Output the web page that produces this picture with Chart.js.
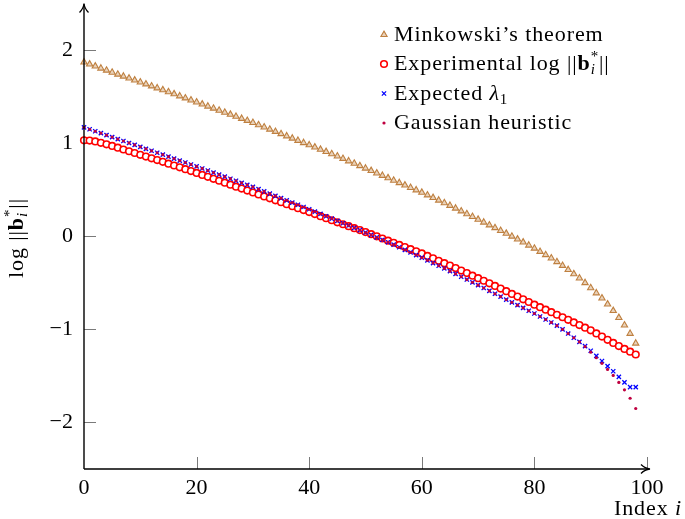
<!DOCTYPE html>
<html>
<head>
<meta charset="utf-8">
<script src="https://cdn.jsdelivr.net/npm/chart.js@4.4.1/dist/chart.umd.min.js"></script>
<style>
  html, body { margin: 0; padding: 0; background: #fff; }
  canvas { display: block; }
</style>
</head>
<body>
<canvas id="grafica" width="685" height="519"></canvas>
<script>
// valores, indice i = 0..98
const minkowski = [
  1.870, 1.848, 1.826, 1.804, 1.782, 1.760, 1.739, 1.718, 1.697, 1.676,
  1.655, 1.634, 1.613, 1.592, 1.571, 1.550, 1.528, 1.506, 1.484, 1.462,
  1.440, 1.418, 1.396, 1.374, 1.352, 1.330, 1.308, 1.286, 1.264, 1.242,
  1.220, 1.196, 1.172, 1.148, 1.124, 1.100, 1.076, 1.052, 1.028, 1.004,
  0.980, 0.956, 0.932, 0.908, 0.884, 0.860, 0.834, 0.808, 0.782, 0.756,
  0.730, 0.704, 0.678, 0.652, 0.626, 0.600, 0.574, 0.548, 0.522, 0.496,
  0.470, 0.442, 0.414, 0.386, 0.358, 0.330, 0.300, 0.270, 0.240, 0.210,
  0.180, 0.150, 0.120, 0.090, 0.060, 0.030, -0.001, -0.032, -0.064, -0.097,
  -0.130, -0.165, -0.200, -0.235, -0.275, -0.315, -0.360, -0.405, -0.450, -0.500,
  -0.555, -0.610, -0.665, -0.730, -0.800, -0.875, -0.955, -1.045, -1.150
];
const experimental = [
  1.030, 1.028, 1.018, 1.003, 0.987, 0.970, 0.951, 0.932, 0.913, 0.894,
  0.875, 0.856, 0.837, 0.818, 0.799, 0.780, 0.760, 0.740, 0.720, 0.700,
  0.680, 0.659, 0.638, 0.617, 0.596, 0.575, 0.554, 0.533, 0.512, 0.491,
  0.470, 0.449, 0.428, 0.407, 0.386, 0.365, 0.344, 0.323, 0.302, 0.281,
  0.260, 0.238, 0.216, 0.194, 0.172, 0.150, 0.129, 0.108, 0.087, 0.066,
  0.045, 0.022, -0.001, -0.024, -0.047, -0.070, -0.093, -0.116, -0.139, -0.162,
  -0.185, -0.211, -0.237, -0.263, -0.289, -0.315, -0.342, -0.369, -0.396, -0.423,
  -0.450, -0.478, -0.506, -0.534, -0.562, -0.590, -0.619, -0.648, -0.677, -0.706,
  -0.735, -0.762, -0.789, -0.816, -0.843, -0.870, -0.898, -0.926, -0.954, -0.982,
  -1.010, -1.044, -1.078, -1.112, -1.146, -1.180, -1.210, -1.240, -1.270
];
const expectedLambda1 = [
  1.170, 1.149, 1.128, 1.107, 1.086, 1.065, 1.044, 1.023, 1.002, 0.981,
  0.960, 0.939, 0.918, 0.897, 0.876, 0.855, 0.834, 0.813, 0.792, 0.771,
  0.750, 0.728, 0.706, 0.684, 0.662, 0.640, 0.618, 0.596, 0.574, 0.552,
  0.530, 0.506, 0.482, 0.458, 0.434, 0.410, 0.386, 0.362, 0.338, 0.314,
  0.290, 0.265, 0.240, 0.215, 0.190, 0.165, 0.140, 0.115, 0.090, 0.065,
  0.040, 0.014, -0.012, -0.038, -0.064, -0.090, -0.118, -0.146, -0.174, -0.202,
  -0.230, -0.259, -0.288, -0.317, -0.346, -0.375, -0.405, -0.435, -0.465, -0.495,
  -0.525, -0.556, -0.587, -0.618, -0.649, -0.680, -0.710, -0.740, -0.770, -0.800,
  -0.830, -0.862, -0.894, -0.926, -0.960, -1.000, -1.045, -1.090, -1.135, -1.180,
  -1.230, -1.285, -1.340, -1.395, -1.450, -1.510, -1.570, -1.620, -1.620
];
const gaussianHeuristic = [
  1.170, 1.149, 1.128, 1.107, 1.086, 1.065, 1.044, 1.023, 1.002, 0.981,
  0.960, 0.939, 0.918, 0.897, 0.876, 0.855, 0.834, 0.813, 0.792, 0.771,
  0.750, 0.728, 0.706, 0.684, 0.662, 0.640, 0.618, 0.596, 0.574, 0.552,
  0.530, 0.506, 0.482, 0.458, 0.434, 0.410, 0.386, 0.362, 0.338, 0.314,
  0.290, 0.265, 0.240, 0.215, 0.190, 0.165, 0.140, 0.115, 0.090, 0.065,
  0.040, 0.014, -0.012, -0.038, -0.064, -0.090, -0.118, -0.146, -0.174, -0.202,
  -0.230, -0.259, -0.288, -0.317, -0.346, -0.375, -0.405, -0.435, -0.465, -0.495,
  -0.525, -0.556, -0.587, -0.618, -0.649, -0.680, -0.710, -0.740, -0.770, -0.800,
  -0.830, -0.862, -0.894, -0.926, -0.960, -1.000, -1.045, -1.090, -1.135, -1.185,
  -1.245, -1.305, -1.365, -1.430, -1.495, -1.570, -1.650, -1.740, -1.850
];
const xTicks = [0, 20, 40, 60, 80, 100];
const yTicks = [-2, -1, 0, 1, 2];

const serif = '"Liberation Serif", "DejaVu Serif", serif';
const fReg = `22px ${serif}`;
const fIt = `italic 22px ${serif}`;
const fBold = `bold 22px ${serif}`;
const fSmall = `15px ${serif}`;
const fSmallIt = `italic 15px ${serif}`;

function puntos(valores) {
    return valores.map((v, i) => ({x: i, y: v}));
}

// texto con partes (sub/superindices); hold = no avanza x
function anchoRico(ctx, partes) {
    let w = 0, held = 0;
    for (const p of partes) {
        ctx.font = p.font;
        const pw = ctx.measureText(p.text).width;
        if (p.hold) { held = pw; continue; }
        w += Math.max(pw, held);
        held = 0;
    }
    return w;
}

function dibujarRico(ctx, partes, x, y) {
    let cx = x, held = 0;
    for (const p of partes) {
        ctx.font = p.font;
        ctx.fillText(p.text, cx, y + (p.dy || 0));
        const pw = ctx.measureText(p.text).width;
        if (p.hold) { held = pw; continue; }
        cx += Math.max(pw, held);
        held = 0;
    }
}

const normaB = [
    {text: '||', font: fReg},
    {text: 'b', font: fBold},
    {text: '*', font: fSmall, dy: -9, hold: true},
    {text: 'i', font: fSmallIt, dy: 4},
    {text: '||', font: fReg}
];

const leyenda = [
    {ds: 0, partes: [{text: 'Minkowski’s theorem', font: fReg}]},
    {ds: 1, partes: [{text: 'Experimental log ', font: fReg}].concat(normaB)},
    {ds: 2, partes: [{text: 'Expected ', font: fReg}, {text: 'λ', font: fIt}, {text: '1', font: fSmall, dy: 4}]},
    {ds: 3, partes: [{text: 'Gaussian heuristic', font: fReg}]}
];
const baseLeyenda = [40.7, 70, 99.5, 129];

const ejesPlugin = {
    id: 'ejes',
    beforeDatasetsDraw(chart) {
        const ctx = chart.ctx;
        const a = chart.chartArea;
        const sx = chart.scales.x, sy = chart.scales.y;
        ctx.save();
        ctx.strokeStyle = '#7a7a7a';
        ctx.lineWidth = 1;
        ctx.beginPath();
        for (const t of yTicks) {
            const py = Math.round(sy.getPixelForValue(t)) + 0.5;
            ctx.moveTo(a.left, py);
            ctx.lineTo(a.left + 12, py);
        }
        for (const t of xTicks) {
            if (t === 0) continue;
            const px = Math.round(sx.getPixelForValue(t)) + 0.5;
            ctx.moveTo(px, a.bottom);
            ctx.lineTo(px, a.bottom - 12);
        }
        ctx.stroke();
        ctx.restore();
    },
    afterDraw(chart) {
        const ctx = chart.ctx;
        const a = chart.chartArea;
        ctx.save();
        // ejes con flechas
        ctx.strokeStyle = '#000';
        ctx.lineWidth = 1.4;
        ctx.beginPath();
        ctx.moveTo(a.left, a.bottom);
        ctx.lineTo(a.left, a.top + 1);
        ctx.moveTo(a.left, a.bottom);
        ctx.lineTo(a.right + 2, a.bottom);
        ctx.stroke();
        ctx.lineWidth = 1.3;
        ctx.beginPath();
        ctx.moveTo(a.left - 4.5, a.top + 9);
        ctx.quadraticCurveTo(a.left - 0.5, a.top + 5, a.left, a.top);
        ctx.quadraticCurveTo(a.left + 0.5, a.top + 5, a.left + 4.5, a.top + 9);
        const tx = a.right + 3;
        ctx.moveTo(tx - 9, a.bottom - 4.5);
        ctx.quadraticCurveTo(tx - 5, a.bottom - 0.5, tx, a.bottom);
        ctx.quadraticCurveTo(tx - 5, a.bottom + 0.5, tx - 9, a.bottom + 4.5);
        ctx.stroke();

        // marcadores de la leyenda
        leyenda.forEach((e, k) => {
            const ds = chart.data.datasets[e.ds];
            ctx.fillStyle = ds.backgroundColor;
            ctx.strokeStyle = ds.borderColor;
            ctx.lineWidth = ds.borderWidth;
            Chart.helpers.drawPoint(ctx, {
                pointStyle: ds.pointStyle,
                radius: ds.pointRadius,
                borderWidth: ds.borderWidth,
                rotation: 0
            }, 384, baseLeyenda[k] - 6);
        });

        ctx.fillStyle = '#000';
        ctx.textBaseline = 'alphabetic';
        ctx.textAlign = 'left';
        ctx.letterSpacing = '0.9px';

        leyenda.forEach((e, k) => {
            dibujarRico(ctx, e.partes, 394, baseLeyenda[k]);
        });

        // titulo eje x
        const tituloX = [{text: 'Index ', font: fReg}, {text: 'i', font: fIt}];
        dibujarRico(ctx, tituloX, 682 - anchoRico(ctx, tituloX), 515);

        // titulo eje y
        const tituloY = [{text: 'log ', font: fReg}].concat(normaB);
        const w = anchoRico(ctx, tituloY);
        ctx.translate(23, 238);
        ctx.rotate(-Math.PI / 2);
        dibujarRico(ctx, tituloY, -w / 2, 0);
        ctx.restore();
    }
};

const datasets = [
    {
        label: 'Minkowski’s theorem',
        data: puntos(minkowski),
        pointStyle: 'triangle',
        pointRadius: 3.6,
        borderWidth: 1.1,
        borderColor: '#bf8040',
        backgroundColor: 'rgba(191,128,64,0.35)',
        order: 3
    },
    {
        label: 'Experimental log ||b*_i||',
        data: puntos(experimental),
        pointStyle: 'circle',
        pointRadius: 3.3,
        borderWidth: 1.6,
        borderColor: '#ff0000',
        backgroundColor: '#ffffff',
        order: 2
    },
    {
        label: 'Expected lambda_1',
        data: puntos(expectedLambda1),
        pointStyle: 'crossRot',
        pointRadius: 3,
        borderWidth: 1.3,
        borderColor: '#0000ff',
        backgroundColor: '#0000ff',
        order: 1
    },
    {
        label: 'Gaussian heuristic',
        data: puntos(gaussianHeuristic),
        pointStyle: 'circle',
        pointRadius: 1.6,
        borderWidth: 0,
        borderColor: '#bf0040',
        backgroundColor: '#bf0040',
        order: 0
    }
];

const sinPadding = s => {
    s.paddingTop = 0;
    s.paddingBottom = 0;
    s.paddingLeft = 0;
    s.paddingRight = 0;
};

const config = {
    type: 'scatter',
    data: {datasets: datasets},
    options: {
        responsive: false,
        animation: false,
        events: [],
        devicePixelRatio: 1,
        layout: {autoPadding: false, padding: {left: 0, top: 3.5, right: 38, bottom: 0}},
        plugins: {legend: {display: false}, tooltip: {enabled: false}},
        elements: {point: {hitRadius: 0, hoverRadius: 0}},
        datasets: {scatter: {clip: false}},
        scales: {
            x: {
                type: 'linear',
                min: 0,
                max: 100,
                grid: {display: false, drawTicks: false, tickLength: 0},
                border: {display: false},
                afterBuildTicks: s => { s.ticks = xTicks.map(v => ({value: v})); },
                afterFit: s => { s.height = 50; sinPadding(s); },
                ticks: {
                    padding: 6,
                    color: '#000',
                    font: {family: serif, size: 22},
                    maxRotation: 0
                }
            },
            y: {
                type: 'linear',
                min: -2.5,
                max: 2.5,
                grid: {display: false, drawTicks: false, tickLength: 0},
                border: {display: false},
                afterBuildTicks: s => { s.ticks = yTicks.map(v => ({value: v})); },
                afterFit: s => { s.width = 84; sinPadding(s); },
                ticks: {
                    padding: 11,
                    color: '#000',
                    font: {family: serif, size: 22},
                    callback: v => (v < 0 ? '\u2212' + Math.abs(v) : String(v))
                }
            }
        }
    },
    plugins: [ejesPlugin]
};

const ChartPrincipal = new Chart(document.getElementById('grafica'), config);
</script>
</body>
</html>
